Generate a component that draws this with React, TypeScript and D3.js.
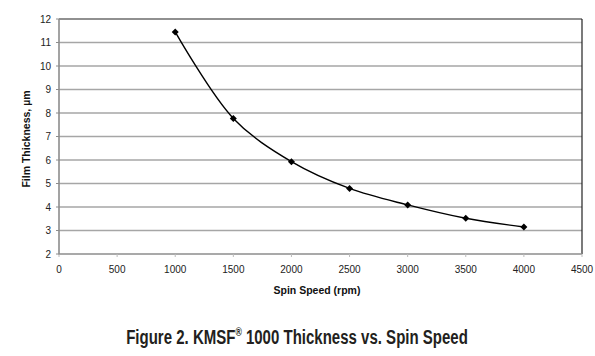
import React from "react";
import * as d3 from "d3";

const speeds = [1000, 1500, 2000, 2500, 3000, 3500, 4000];
const thickness = [11.45, 7.77, 5.93, 4.79, 4.09, 3.52, 3.15];
const xTicks = [0, 500, 1000, 1500, 2000, 2500, 3000, 3500, 4000, 4500];
const yTicks = [2, 3, 4, 5, 6, 7, 8, 9, 10, 11, 12];
const xTitle = "Spin Speed (rpm)";
const yTitle = "Film Thickness, µm";
const captionA = "Figure 2. KMSF";
const captionMark = "®";
const captionB = " 1000 Thickness vs. Spin Speed";

export default function App() {
  const W = 595, H = 356;
  const L = 59, R = 582, T = 19, B = 254;
  const x = d3.scaleLinear().domain([0, 4500]).range([L, R]);
  const y = d3.scaleLinear().domain([2, 12]).range([B, T]);
  const pts = speeds.map((s, i) => [x(s), y(thickness[i])] as [number, number]);
  const line = d3.line().curve(d3.curveCatmullRom.alpha(0.5))(pts) || "";
  const font = "Arial, 'Liberation Sans', sans-serif";
  return (
    <svg width={W} height={H} style={{ position: "absolute", left: 0, top: 0, background: "#fff" }}>
      <rect width={W} height={H} fill="#fff" />
      {yTicks.filter(v => v !== 2 && v !== 12).map(v => (
        <line key={v} x1={L} x2={R} y1={y(v)} y2={y(v)} stroke="#a6a6a6" strokeWidth={1.4} />
      ))}
      <line x1={L} x2={R} y1={T} y2={T} stroke="#222" strokeWidth={1.2} />
      <line x1={R} x2={R} y1={T} y2={B} stroke="#222" strokeWidth={1.2} />
      <line x1={L} x2={L} y1={T} y2={B + 1} stroke="#8c8c8c" strokeWidth={1.6} />
      <line x1={L} x2={R} y1={B} y2={B} stroke="#8c8c8c" strokeWidth={1.6} />
      {yTicks.map(v => (
        <g key={v}>
          <line x1={L - 3} x2={L} y1={y(v)} y2={y(v)} stroke="#8c8c8c" strokeWidth={1} />
          <text x={51} y={y(v)} dy="0.35em" textAnchor="end" fontFamily={font} fontSize={10} fill="#222">{v}</text>
        </g>
      ))}
      {xTicks.map(v => (
        <g key={v}>
          <line x1={x(v)} x2={x(v)} y1={B} y2={B + 3} stroke="#bbb" strokeWidth={1} />
          <text x={x(v)} y={269} dy="0.35em" textAnchor="middle" fontFamily={font} fontSize={10} fill="#222">{v}</text>
        </g>
      ))}
      <path d={line} fill="none" stroke="#000" strokeWidth={1.4} />
      {pts.map((p, i) => (
        <path key={i} d={`M${p[0]},${p[1] - 3.5}L${p[0] + 3.5},${p[1]}L${p[0]},${p[1] + 3.5}L${p[0] - 3.5},${p[1]}Z`} fill="#000" />
      ))}
      <text x={317} y={290} dy="0.35em" textAnchor="middle" fontFamily={font} fontSize={10.5} fontWeight="bold" fill="#111">{xTitle}</text>
      <text transform={`translate(26,139) rotate(-90)`} textAnchor="middle" fontFamily={font} fontSize={10.5} fontWeight="bold" fill="#111" dy="0.35em">{yTitle}</text>
      <text transform="translate(297,344) scale(0.715,1)" x={0} y={0} textAnchor="middle" fontFamily="'Liberation Sans', Arial, sans-serif" fontSize={21} fontWeight="bold" fill="#231f20">
        <tspan>{captionA}</tspan>
        <tspan fontSize={12} dy={-8}>{captionMark}</tspan>
        <tspan dy={8}>{captionB}</tspan>
      </text>
    </svg>
  );
}
